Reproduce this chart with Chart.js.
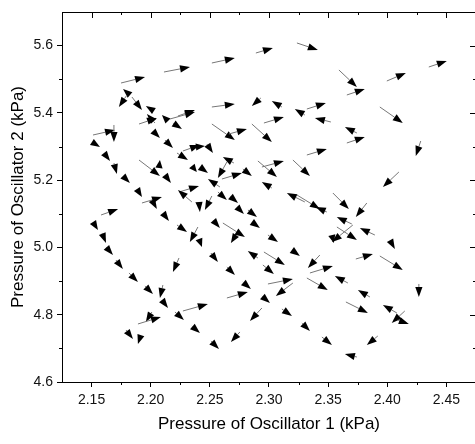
<!DOCTYPE html>
<html><head><meta charset="utf-8">
<script src="https://cdn.jsdelivr.net/npm/chart.js@4.4.1/dist/chart.umd.min.js"></script>
<style>html,body{margin:0;padding:0;overflow:hidden;background:#fff}#wrap{width:480px;height:444px}</style>
</head><body><div id="wrap"><canvas id="c" width="480" height="444"></canvas></div>
<script>
// Arrow tails (Pressure of oscillator 1, Pressure of oscillator 2), kPa
const tailX = [
2.2112,2.1749,2.1825,2.1799,2.1841,2.2027,2.1901,2.2036,2.2146,2.2163,
2.2230,2.2188,2.1512,2.1689,2.2889,2.2517,2.3236,2.4351,2.3996,2.3591,
2.3658,2.3937,2.3743,2.2517,2.2931,2.3109,2.2957,2.3303,2.3320,2.3523,
2.2517,2.2855,2.2661,2.1503,2.2019,2.2120,2.2222,2.2272,2.1605,2.2348,
2.1689,2.1901,2.2070,2.2120,2.1765,2.2239,2.2348,2.1884,2.1926,2.2010,
2.2103,2.1580,2.1512,2.2222,2.1588,2.2399,2.1622,2.2382,2.2475,2.3320,
2.2703,2.2644,2.2602,2.2779,2.2940,2.2906,2.3202,2.2416,2.2585,2.3024,
2.2568,2.2670,2.3303,2.3236,2.3489,2.2408,2.2517,2.2729,2.2822,2.2526,
2.2855,2.2610,2.2720,2.2408,2.2991,2.3531,2.3658,2.4283,2.4098,2.3540,
2.3827,2.3700,2.3574,2.3709,2.3895,2.4022,2.1706,2.2239,2.1816,2.1951,
2.2103,2.2095,2.2205,2.2272,2.2010,2.1892,2.2348,2.1791,2.1917,2.2509,
2.2906,2.2957,2.3193,2.3430,2.3346,2.2644,2.2948,2.3320,2.2991,2.2779,
2.2644,2.3202,2.2940,2.2940,2.3109,2.3278,2.2754,2.2509,2.3447,2.3734,
2.3937,2.3667,2.4267,2.3853,2.3650,2.4081,2.4148,2.4089,2.3920,2.3743];
const tailY = [
5.5216,5.4889,5.4533,5.4533,5.4473,5.4057,5.3670,5.3700,5.3760,5.3819,
5.3908,5.3700,5.3343,5.3641,5.5781,5.5484,5.6079,5.5365,5.4949,5.5276,
5.4533,5.4176,5.3403,5.4176,5.4443,5.4176,5.3700,5.3938,5.4116,5.3730,
5.3670,5.3670,5.3373,5.3135,5.3462,5.3195,5.2808,5.2868,5.2808,5.2422,
5.2511,5.2600,5.2362,5.2154,5.2125,5.1649,5.1352,5.1738,5.1322,5.1411,
5.1025,5.0965,5.0757,5.0668,5.0430,5.0608,5.0014,5.2987,5.3076,5.2749,
5.2511,5.2541,5.2035,5.2333,5.2392,5.2571,5.2600,5.2392,5.1798,5.1768,
5.1649,5.1530,5.1352,5.1560,5.1054,5.1352,5.1530,5.1203,5.1114,5.0816,
5.0757,5.0727,5.0370,5.0252,5.0370,5.0370,5.3106,5.3165,5.2243,5.1619,
5.1322,5.0698,5.0608,5.0668,5.0370,5.0222,4.9627,4.9687,4.9241,4.8854,
4.8884,4.8438,4.8081,4.8111,4.8081,4.7725,4.7665,4.7546,4.7397,4.9835,
4.9687,4.9865,4.9925,4.9776,4.9241,4.9419,4.9479,4.9092,4.8914,4.8973,
4.8498,4.8943,4.8557,4.8200,4.8170,4.7754,4.7487,4.7219,4.7338,4.9657,
4.9746,4.8943,4.8914,4.8527,4.8379,4.8052,4.8111,4.7843,4.7368,4.6743];
// Arrow components (change of each pressure), kPa
const vecU = [
0.0220,0.0203,-0.0059,-0.0068,0.0085,-0.0068,0.0152,-0.0068,-0.0051,0.0211,
0.0144,0.0076,0.0186,0,0.0144,0.0194,0.0177,0.0152,0.0161,0.0152,
0.0152,0.0194,-0.0101,0.0194,-0.0076,-0.0085,0.0169,-0.0085,0.0161,-0.0135,
0.0194,0.0169,0.0152,0.0068,0.0059,0.0068,0.0093,0.0144,0.0051,0.0042,
0.0025,0.0177,0.0008,0.0051,0.0059,0.0169,-0.0118,0.0042,0.0169,0.0042,
0.0051,0.0144,0.0042,0.0085,0.0034,-0.0068,0.0059,0.0076,0.0051,0.0169,
-0.0093,-0.0076,0.0169,0.0076,0.0186,0.0161,0.0144,0.0068,-0.0101,-0.0085,
0.0076,0.0068,-0.0152,0.0194,-0.0093,0.0008,-0.0059,0.0059,0.0076,0.0059,
0.0068,0.0186,-0.0042,0.0025,0.0085,0.0017,0.0152,-0.0042,-0.0135,0.0135,
-0.0093,-0.0127,0.0169,-0.0177,-0.0127,0.0042,0.0059,-0.0051,0.0076,0.0068,
-0.0025,0.0051,0.0076,0.0211,-0.0051,0.0194,0.0068,0.0059,-0.0025,0.0059,
-0.0085,0.0177,0.0068,-0.0101,0.0194,0.0068,0.0093,0.0177,0.0211,0.0068,
0.0177,-0.0144,0.0068,-0.0101,0.0085,0.0068,-0.0076,0.0068,0.0085,0.0144,
0.0194,-0.0110,0,-0.0101,0.0186,-0.0118,-0.0110,0.0093,-0.0093,-0.0101];
const vecV = [
0.0149,0.0178,0.0178,-0.0357,-0.0386,0.0149,0.0178,0.0268,0.0178,0.0208,
0.0178,-0.0178,0.0149,-0.0505,0.0149,0.0149,-0.0208,0.0178,0.0238,-0.0505,
0.0178,-0.0476,0.0178,0.0089,-0.0238,0.0178,0.0178,0.0178,0.0178,0.0119,
-0.0476,-0.0535,0.0149,-0.0149,-0.0208,-0.0238,-0.0208,0.0178,-0.0238,-0.0178,
-0.0327,-0.0476,0.0238,-0.0238,-0.0208,0.0178,0.0357,-0.0238,0.0178,-0.0268,
-0.0238,0.0178,-0.0238,-0.0208,-0.0297,-0.0446,-0.0238,0.0030,-0.0268,0.0178,
0.0178,-0.0476,0.0178,-0.0208,0.0178,-0.0476,-0.0476,-0.0178,0.0238,0.0178,
-0.0238,-0.0208,0.0268,-0.0416,0.0149,-0.0297,-0.0416,-0.0208,-0.0208,-0.0238,
-0.0178,-0.0416,-0.0238,-0.0238,-0.0208,-0.0238,0.0178,-0.0446,-0.0446,-0.0476,
-0.0416,0.0208,-0.0386,-0.0505,0.0208,-0.0268,-0.0268,-0.0416,-0.0268,-0.0238,
-0.0386,-0.0238,-0.0238,0.0208,-0.0297,0.0208,-0.0208,-0.0268,-0.0268,-0.0268,
0.0208,-0.0386,-0.0178,-0.0386,0.0208,-0.0238,-0.0268,-0.0357,0.0149,-0.0208,
0.0178,-0.0386,-0.0208,-0.0386,-0.0208,-0.0238,-0.0297,-0.0238,-0.0238,0.0149,
-0.0416,0.0208,-0.0386,0.0208,-0.0327,0.0238,-0.0357,-0.0119,-0.0268,0.0089];

const xRange = [2.125, 2.475];
const yRange = [4.6, 5.7];
const xTickValues = [2.15, 2.20, 2.25, 2.30, 2.35, 2.40, 2.45];
const yTickValues = [4.6, 4.8, 5.0, 5.2, 5.4, 5.6];
const xMinorTicks = [2.175, 2.225, 2.275, 2.325, 2.375, 2.425];
const yMinorTicks = [4.7, 4.9, 5.1, 5.3, 5.5];
const xTitle = 'Pressure of Oscillator 1 (kPa)';
const yTitle = 'Pressure of Oscillator 2 (kPa)';

const FONT = "'Liberation Sans', Arial, sans-serif";

const quiverPlugin = {
  id: 'quiver',
  afterDatasetsDraw(chart) {
    const {ctx, scales: {x, y}} = chart;
    const HL = 10, HW = 3.6;
    ctx.save();
    for (let i = 0; i < tailX.length; i++) {
      const x1 = x.getPixelForValue(tailX[i]), y1 = y.getPixelForValue(tailY[i]);
      const x2 = x.getPixelForValue(tailX[i] + vecU[i]), y2 = y.getPixelForValue(tailY[i] + vecV[i]);
      const dx = x2 - x1, dy = y2 - y1, L = Math.hypot(dx, dy);
      if (!L) continue;
      const ux = dx / L, uy = dy / L;
      const hl = Math.min(HL, L);
      const bx = x2 - ux * hl, by = y2 - uy * hl;
      if (L > hl) {
        ctx.strokeStyle = '#777'; ctx.lineWidth = 1;
        ctx.beginPath(); ctx.moveTo(x1, y1); ctx.lineTo(bx, by); ctx.stroke();
      }
      ctx.fillStyle = '#000';
      ctx.beginPath();
      ctx.moveTo(x2, y2);
      ctx.lineTo(bx - uy * HW, by + ux * HW);
      ctx.lineTo(bx + uy * HW, by - ux * HW);
      ctx.closePath(); ctx.fill();
    }
    ctx.restore();
  }
};

const framePlugin = {
  id: 'frame',
  afterDraw(chart) {
    const {ctx, chartArea: a, scales: {x, y}} = chart;
    ctx.save();
    ctx.strokeStyle = '#000';
    ctx.lineWidth = 1;
    ctx.strokeRect(Math.round(a.left) + 0.5, Math.round(a.top) + 0.5, Math.round(a.right - a.left), Math.round(a.bottom - a.top));
    ctx.beginPath();
    xMinorTicks.forEach(v => {
      const p = Math.round(x.getPixelForValue(v)) + 0.5;
      ctx.moveTo(p, a.bottom); ctx.lineTo(p, a.bottom + 3);
      ctx.moveTo(p, a.top); ctx.lineTo(p, a.top + 3);
    });
    xTickValues.forEach(v => {
      const p = Math.round(x.getPixelForValue(v)) + 0.5;
      ctx.moveTo(p, a.top); ctx.lineTo(p, a.top + 6);
    });
    yMinorTicks.forEach(v => {
      const p = Math.round(y.getPixelForValue(v)) + 0.5;
      ctx.moveTo(a.left, p); ctx.lineTo(a.left - 3, p);
      ctx.moveTo(a.right, p); ctx.lineTo(a.right - 3, p);
    });
    yTickValues.forEach(v => {
      const p = Math.round(y.getPixelForValue(v)) + 0.5;
      ctx.moveTo(a.right, p); ctx.lineTo(a.right - 6, p);
    });
    ctx.stroke();
    ctx.restore();
  }
};

new Chart(document.getElementById('c'), {
  type: 'scatter',
  data: {
    datasets: [{
      data: tailX.map((v, i) => ({x: v, y: tailY[i]})),
      pointRadius: 0,
      showLine: false
    }]
  },
  options: {
    responsive: false,
    animation: false,
    devicePixelRatio: 1,
    layout: {padding: {top: 12, right: 4, left: 0, bottom: 0}},
    plugins: {legend: {display: false}, tooltip: {enabled: false}},
    scales: {
      x: {
        type: 'linear', min: xRange[0], max: xRange[1], bounds: 'data',
        afterBuildTicks(s) { s.ticks = xTickValues.map(v => ({value: v})); },
        afterFit(s) { s.height = 62; s.paddingLeft = 0; s.paddingRight = 0; },
        grid: {drawOnChartArea: false, color: '#000', tickLength: 5, tickWidth: 1},
        border: {display: true, color: '#000', width: 1},
        ticks: {autoSkip: false, maxRotation: 0,
          padding: 5, color: '#111', font: {family: FONT, size: 14},
          callback: v => Number(v).toFixed(2)},
        title: {display: true, text: xTitle, color: '#000', font: {family: FONT, size: 17},
          padding: {top: 0, bottom: 9}}
      },
      y: {
        type: 'linear', min: yRange[0], max: yRange[1], bounds: 'data',
        afterBuildTicks(s) { s.ticks = yTickValues.map(v => ({value: v})); },
        afterFit(s) { s.width = 62; s.paddingTop = 0; s.paddingBottom = 0; },
        grid: {drawOnChartArea: false, color: '#000', tickLength: 5, tickWidth: 1},
        border: {display: true, color: '#000', width: 1},
        ticks: {autoSkip: false,
          padding: 4, color: '#111', font: {family: FONT, size: 14},
          callback: v => Number(v).toFixed(1)},
        title: {display: true, text: yTitle, color: '#000', font: {family: FONT, size: 17},
          padding: {top: 8, bottom: 0}}
      }
    }
  },
  plugins: [quiverPlugin, framePlugin]
});
</script>
</body></html>
